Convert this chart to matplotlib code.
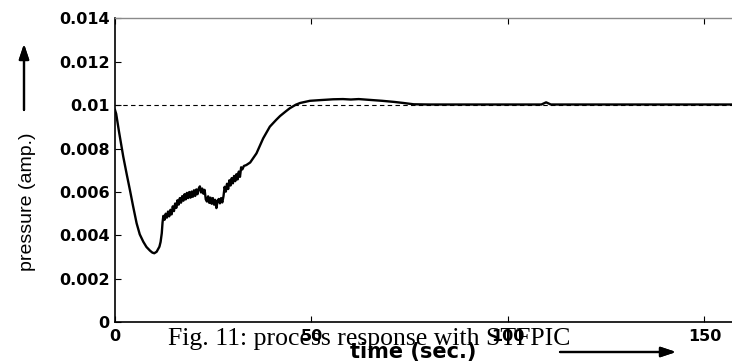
import matplotlib
matplotlib.use("Agg")
import matplotlib.pyplot as plt

# Process response (pressure amplitude) over time
time_s = [
    0.0, 0.3, 1.0, 2.1, 3.0, 3.8, 4.6, 5.5, 6.3, 7.2, 8.0, 8.9, 9.5, 10.0,
    10.6, 11.3, 11.6, 11.9, 12.1,
    12.3, 12.6, 12.9, 13.2, 13.5, 13.8, 14.1, 14.4, 14.7, 15.0, 15.3, 15.6,
    15.9, 16.2, 16.5, 16.8, 17.1, 17.4, 17.7, 18.0, 18.3, 18.6, 18.9, 19.2,
    19.5, 19.8, 20.1, 20.4, 20.7, 21.0, 21.3, 21.6, 21.9, 22.2, 22.5, 22.8,
    23.1, 23.4, 23.7, 24.0, 24.3, 24.6, 24.9, 25.2, 25.5, 25.8, 26.1, 26.4,
    26.7, 27.0, 27.3, 27.6, 27.9, 28.2, 28.5, 28.8, 29.1, 29.4, 29.7, 30.0,
    30.3, 30.6, 30.9, 31.2, 31.5, 31.8, 32.1, 32.4, 32.8, 33.4, 34.4,
    36.0, 37.7, 39.4, 41.0, 42.0, 43.5, 44.5, 46.0, 47.1, 49.6, 52.0, 55.5,
    58.0, 60.0, 62.0, 65.0, 68.0, 71.0, 73.4, 76.0, 80.0, 108.5, 109.7,
    110.9, 157.0,
]
pressure = [
    0.00978, 0.00960, 0.00880, 0.00763, 0.00680, 0.00609, 0.00535, 0.00456,
    0.00405, 0.00371, 0.00347, 0.00330, 0.00321, 0.00318, 0.00325, 0.00348,
    0.00370, 0.00410, 0.00460,
    0.00490, 0.00472, 0.00500, 0.00482, 0.00510, 0.00488, 0.00518, 0.00497,
    0.00534, 0.00512, 0.00547, 0.00527, 0.00562, 0.00542, 0.00572, 0.00551,
    0.00581, 0.00560, 0.00590, 0.00566, 0.00596, 0.00572, 0.00600, 0.00574,
    0.00602, 0.00578, 0.00608, 0.00582, 0.00612, 0.00590, 0.00616, 0.00626,
    0.00598, 0.00616, 0.00592, 0.00610, 0.00566, 0.00556, 0.00580, 0.00550,
    0.00574, 0.00546, 0.00572, 0.00542, 0.00564, 0.00526, 0.00558, 0.00568,
    0.00548, 0.00572, 0.00552, 0.00580, 0.00624, 0.00602, 0.00638, 0.00614,
    0.00654, 0.00630, 0.00664, 0.00640, 0.00674, 0.00650, 0.00682, 0.00658,
    0.00694, 0.00670, 0.00714, 0.00704, 0.00720, 0.00724, 0.00736,
    0.00778, 0.00847, 0.00901, 0.00932, 0.00950, 0.00972, 0.00986, 0.01002,
    0.01010, 0.01020, 0.01023, 0.01027, 0.01028, 0.01026, 0.01028, 0.01024,
    0.01020, 0.01015, 0.01010, 0.01004, 0.01003, 0.01003, 0.01013, 0.01003,
    0.01003,
]
setpoint = 0.01

x_ticks = [0, 50, 100, 150]
x_tick_labels = ["0", "50", "100", "150"]
y_ticks = [0, 0.002, 0.004, 0.006, 0.008, 0.010, 0.012, 0.014]
y_tick_labels = ["0", "0.002", "0.004", "0.006", "0.008", "0.01", "0.012", "0.014"]

W, H = 732, 363
fig = plt.figure(figsize=(W / 100, H / 100), dpi=100)
ax = fig.add_axes([115 / W, 1 - 322.3 / H, 1 - 115 / W, (322.3 - 18.3) / H])

ax.axhline(setpoint, color="black", lw=0.8, dashes=(4, 3))
ax.plot(time_s, pressure, color="black", lw=1.7, solid_joinstyle="round")

ax.set_xlim(0, 157)
ax.set_ylim(0, 0.014)

tick_font = dict(family="DejaVu Sans", weight="bold", size=11.5)
ax.set_xticks(x_ticks)
ax.set_xticklabels(x_tick_labels, fontdict=tick_font)
ax.set_yticks(y_ticks)
ax.set_yticklabels(y_tick_labels, fontdict=tick_font)
ax.tick_params(direction="in", length=4, width=0.8, top=True, right=False)
ax.tick_params(axis="x", pad=5)
ax.tick_params(axis="y", pad=4)

ax.spines["right"].set_visible(False)
ax.spines["top"].set_color("#8a8a8a")
ax.spines["top"].set_linewidth(1.0)
ax.spines["left"].set_linewidth(1.2)
ax.spines["bottom"].set_linewidth(1.2)

# Axis captions with direction arrows
fig.text(27 / W, 1 - 202 / H, "pressure (amp.)", rotation=90,
         ha="center", va="center", family="Liberation Sans", size=14)
fig.text(413 / W, 1 - 352 / H, "time (sec.)", ha="center", va="center",
         family="DejaVu Sans", weight="bold", size=15)
arrow = dict(arrowstyle="-|>,head_length=0.9,head_width=0.3",
             color="black", lw=1.6, shrinkA=0, shrinkB=0)
fig.add_artist(plt.annotate("", xy=(24 / W, 1 - 44 / H), xytext=(24 / W, 1 - 110 / H),
                            xycoords="figure fraction", textcoords="figure fraction",
                            arrowprops=arrow))
fig.add_artist(plt.annotate("", xy=(676 / W, 1 - 352 / H), xytext=(560 / W, 1 - 352 / H),
                            xycoords="figure fraction", textcoords="figure fraction",
                            arrowprops=arrow))

fig.text(168 / W, 18 / H, "Fig. 11: process response with STFPIC",
         ha="left", va="baseline", family="Liberation Serif", size=18.5)

fig.savefig("out.png", dpi=100)
